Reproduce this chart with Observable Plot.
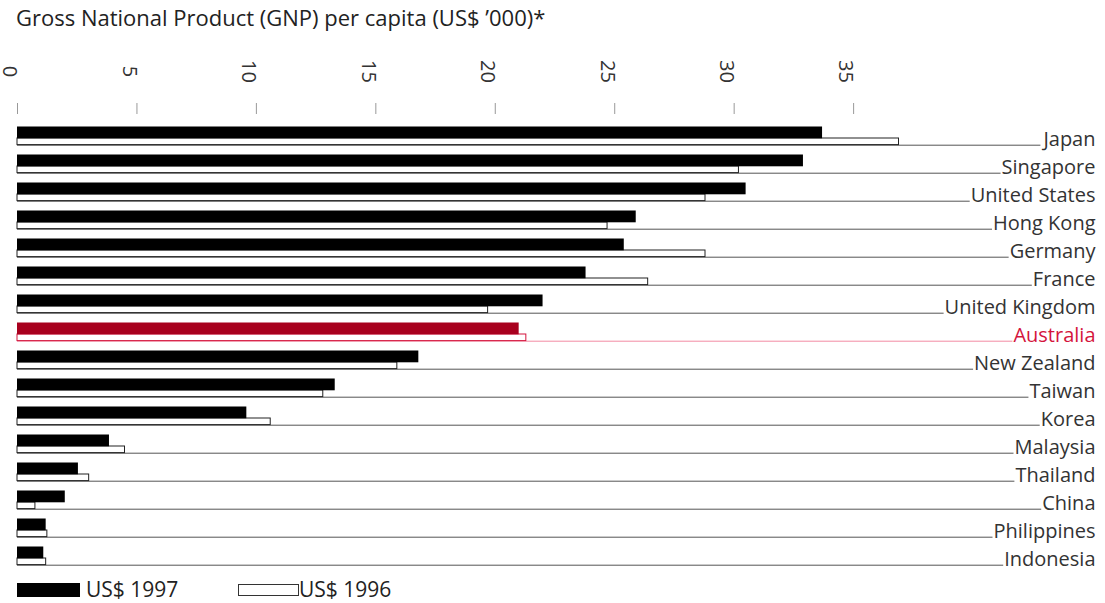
<!DOCTYPE html>
<html><head><meta charset="utf-8">
<script src="https://cdn.jsdelivr.net/npm/d3@7"></script>
<script src="https://cdn.jsdelivr.net/npm/@observablehq/plot@0.6"></script>
<style>
body{margin:0;background:#fff;font-family:"Open Sans",sans-serif;}
#title{height:45px;box-sizing:border-box;padding:3px 0 0 16px;font-size:22px;line-height:28px;color:#222;white-space:nowrap;}
#chart svg{display:block;}
#legend{position:relative;height:28px;font-size:21px;color:#222;}
#legend .sw{position:absolute;box-sizing:border-box;}
#legend .lb{position:absolute;line-height:24px;}
</style></head><body>
<div id="title">Gross National Product (GNP) per capita (US$ ’000)*</div>
<div id="chart"></div>
<div id="legend">
  <span class="sw" style="left:17px;top:8px;width:63px;height:14px;background:#000"></span>
  <span class="lb" style="left:86px;top:2px">US$ 1997</span>
  <span class="sw" style="left:238px;top:9px;width:61px;height:12px;border:1px solid #333;background:#fff"></span>
  <span class="lb" style="left:299px;top:2px">US$ 1996</span>
</div>
<script>
const countries = ["Japan","Singapore","United States","Hong Kong","Germany","France","United Kingdom","Australia","New Zealand","Taiwan","Korea","Malaysia","Thailand","China","Philippines","Indonesia"];
const gnp1997 = [33.7, 32.9, 30.5, 25.9, 25.4, 23.8, 22.0, 21.0, 16.8, 13.3, 9.6, 3.85, 2.55, 2.0, 1.2, 1.1];
const gnp1996 = [36.9, 30.2, 28.8, 24.7, 28.8, 26.4, 19.7, 21.3, 15.9, 12.8, 10.6, 4.5, 3.0, 0.75, 1.25, 1.2];
const xTicks = [0, 5, 10, 15, 20, 25, 30, 35];
const highlight = "Australia";

const data = countries.map((c, i) => ({country: c, v97: gnp1997[i], v96: gnp1996[i]}));
const isHi = d => d.country === highlight;

const plot = Plot.plot({
  width: 1105, height: 530,
  marginTop: 73, marginLeft: 17, marginRight: 13, marginBottom: 5.8,
  x: {domain: [0, 45]},
  y: {domain: countries, padding: 0, axis: null},
  color: {type: "identity"},
  style: {fontFamily: "Open Sans", fontSize: "20px", color: "#222", background: "white", overflow: "visible"},
  marks: [
    Plot.axisX(xTicks, {anchor: "top", tickSize: 11, dy: -5, tickFormat: () => "", stroke: "#999", label: null}),
    Plot.text(xTicks, {x: d => d, text: d => String(d), frameAnchor: "top", dy: -47, rotate: 90, fontSize: 20, fill: "#333"}),
    Plot.ruleY(data, {y: "country", x1: 0, x2: 45, dy: 10.7, stroke: d => isHi(d) ? "#f28aa2" : "#555", strokeWidth: 1, ariaDescription: "baselines"}),
    Plot.barX(data, {y: "country", x: "v96", fill: "white", stroke: d => isHi(d) ? "#d4143c" : "#222", strokeWidth: 1, insetTop: 18, insetBottom: 3.4}),
    Plot.barX(data, {y: "country", x: "v97", fill: d => isHi(d) ? "#a8001e" : "#000", insetTop: 6.5, insetBottom: 9.7}),
    Plot.text(data, {y: "country", text: "country", frameAnchor: "right", textAnchor: "end", lineAnchor: "bottom", dy: 11, dx: 3, fill: d => isHi(d) ? "#d4143c" : "#333", fontSize: 20, ariaDescription: "labels"})
  ]
});
document.getElementById("chart").append(plot);
const svgRect = plot.getBoundingClientRect();
const labels = plot.querySelectorAll('g[aria-description="labels"] text');
const lines = plot.querySelectorAll('g[aria-description="baselines"] line');
labels.forEach((t, i) => {
  const r = t.getBoundingClientRect();
  if (lines[i]) lines[i].setAttribute("x2", r.left - svgRect.left - 1);
});
</script>
</body></html>
